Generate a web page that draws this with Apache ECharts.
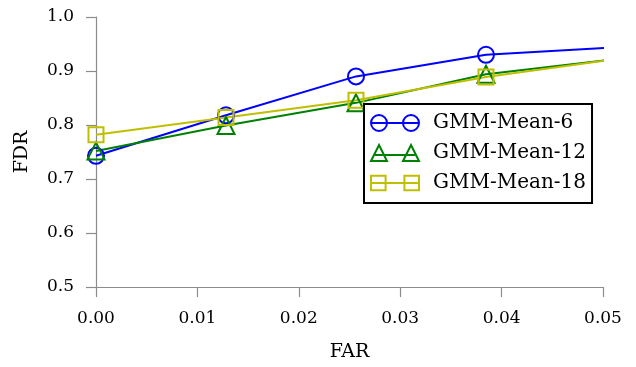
<!DOCTYPE html>
<html>
<head>
<meta charset="utf-8">
<script src="https://cdn.jsdelivr.net/npm/echarts@6/dist/echarts.min.js"></script>
<style>
  html, body { margin: 0; padding: 0; background: #fff; }
  #chart { width: 636px; height: 367px; }
</style>
</head>
<body>
<div id="chart"></div>
<script>
// FAR values (last one lies just past the axis end and gets clipped)
var far = [0, 0.01282, 0.02564, 0.03846, 0.05128];
var mean6 = [0.743, 0.818, 0.890, 0.930, 0.944];
var mean12 = [0.752, 0.799, 0.841, 0.894, 0.922];
var mean18 = [0.782, 0.814, 0.846, 0.889, 0.922];
var xTicks = [0, 0.01, 0.02, 0.03, 0.04, 0.05];
var yTicks = [0.5, 0.6, 0.7, 0.8, 0.9, 1.0];

var font = 'DejaVu Serif';
var colors = ['#0000ff', '#008000', '#bfbf00'];

// legend icons: two markers joined by a line, like the pgfplots legend
var iconCircle = 'path://M0,8 a8,8 0 1,0 16,0 a8,8 0 1,0 -16,0 M0,8 L48,8 M32,8 a8,8 0 1,0 16,0 a8,8 0 1,0 -16,0';
var iconTriangle = 'path://M8,0 L16,16 L0,16 Z M4,10 L44,10 M40,0 L48,16 L32,16 Z';
var iconRect = 'path://M1,1 L15,1 L15,15 L1,15 Z M1,8 L47,8 M33,1 L47,1 L47,15 L33,15 Z';

function pairs(ys) {
    return far.map(function (x, i) { return [x, ys[i]]; });
}

function makeSeries(name, ys, color, symbol) {
    return {
        name: name,
        type: 'line',
        data: pairs(ys),
        symbol: symbol,
        symbolSize: symbol === 'triangle' ? 17 : (symbol === 'rect' ? 15 : 16),
        showAllSymbol: true,
        clip: true,
        lineStyle: { color: color, width: 2 },
        itemStyle: { color: 'rgba(0,0,0,0)', borderColor: color, borderWidth: 2 },
        emphasis: { disabled: true }
    };
}

function legendItem(name, icon, color) {
    return {
        name: name,
        icon: icon,
        itemStyle: { color: 'rgba(0,0,0,0)', borderColor: color, borderWidth: 2 }
    };
}

var myChart = echarts.init(document.getElementById('chart'));

var option = {
    backgroundColor: '#ffffff',
    animation: false,
    textStyle: { fontFamily: font },
    grid: { left: 96, right: 33, top: 17, bottom: 79 },
    legend: {
        orient: 'vertical',
        left: 364,
        top: 104,
        padding: [9, 6, 10, 6],
        borderColor: '#000',
        borderWidth: 2,
        borderRadius: 0,
        backgroundColor: '#fff',
        itemWidth: 48,
        itemHeight: 16,
        itemGap: 10,
        textStyle: { fontFamily: font, fontSize: 20, color: '#000', padding: [0, 0, 0, 9] },
        data: [
            legendItem('GMM-Mean-6', iconCircle, colors[0]),
            legendItem('GMM-Mean-12', iconTriangle, colors[1]),
            legendItem('GMM-Mean-18', iconRect, colors[2])
        ]
    },
    xAxis: {
        type: 'value',
        min: 0,
        max: 0.05,
        interval: 0.01,
        name: 'FAR',
        nameLocation: 'middle',
        nameGap: 56,
        nameTextStyle: { fontFamily: font, fontSize: 19, color: '#000' },
        splitLine: { show: false },
        axisLine: { show: true, lineStyle: { color: '#8c8c8c', width: 1.2 } },
        axisTick: { show: true, length: 10, lineStyle: { color: '#8c8c8c', width: 1.2 } },
        axisLabel: {
            fontFamily: font, fontSize: 17, color: '#000', margin: 23,
            formatter: function (v) { return v.toFixed(2); }
        }
    },
    yAxis: {
        type: 'value',
        min: 0.5,
        max: 1.0,
        interval: 0.1,
        name: 'FDR',
        nameLocation: 'middle',
        nameGap: 64,
        nameRotate: 90,
        nameTextStyle: { fontFamily: font, fontSize: 19, color: '#000' },
        splitLine: { show: false },
        axisLine: { show: true, lineStyle: { color: '#8c8c8c', width: 1.2 } },
        axisTick: { show: true, length: 10, lineStyle: { color: '#8c8c8c', width: 1.2 } },
        axisLabel: {
            fontFamily: font, fontSize: 17, color: '#000', margin: 22,
            formatter: function (v) { return v.toFixed(1); }
        }
    },
    series: [
        makeSeries('GMM-Mean-6', mean6, colors[0], 'circle'),
        makeSeries('GMM-Mean-12', mean12, colors[1], 'triangle'),
        makeSeries('GMM-Mean-18', mean18, colors[2], 'rect')
    ]
};

myChart.setOption(option);
</script>
</body>
</html>
